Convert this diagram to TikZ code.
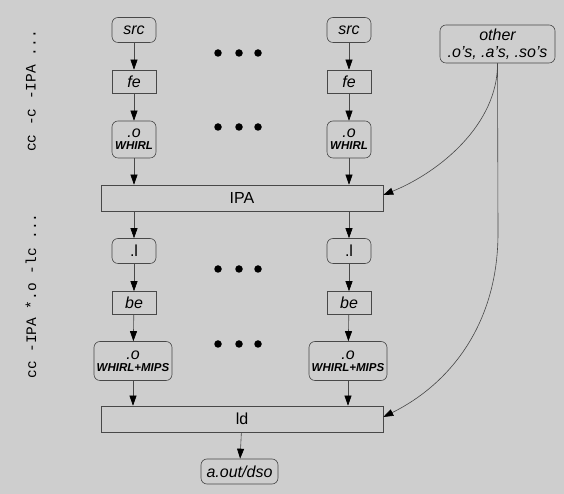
\documentclass[tikz,border=0pt]{standalone}
\usepackage{fontspec}
\setmainfont{Liberation Sans}
\setmonofont{Liberation Mono}
\usetikzlibrary{arrows.meta}
\definecolor{bg}{RGB}{206,206,206}
\definecolor{edge}{RGB}{72,72,72}
\newcommand{\ir}[1]{{\fontsize{11.5}{12}\selectfont\bfseries\itshape #1}}
\tikzset{
  every picture/.style={line width=0.6pt},
  file/.style={draw=edge,rectangle,rounded corners=6pt,minimum width=44pt,minimum height=25pt,align=center,inner sep=1pt,font=\fontsize{16}{17}\selectfont\itshape},
  tool/.style={draw=edge,rectangle,minimum width=44pt,minimum height=23pt,inner sep=1pt,font=\fontsize{16}{17}\selectfont\itshape},
  bar/.style={draw=edge,rectangle,minimum width=282pt,minimum height=26pt,font=\fontsize{16}{17}\selectfont},
  lbl/.style={font=\fontsize{14.5}{15}\selectfont\ttfamily,rotate=90,inner sep=0pt},
  flow/.style={-{Triangle[length=10pt,width=7pt,color=black]},edge},
  dot/.style={circle,fill=black,minimum size=7.5pt,inner sep=0pt},
}

\begin{document}
\begin{tikzpicture}[x=1pt,y=1pt]
\fill[bg] (0,0) rectangle (564,494);
\useasboundingbox (0,0) rectangle (564,494);
% compile commands
\node[lbl] (ccC) at (31,403) {cc -c -IPA ...};
\node[lbl] (ccL) at (31,198) {cc -IPA *.o -lc ...};
% front end, one column per source
\foreach \c/\x in {L/134,R/349} {
  \node[file] (src\c) at (\x,464) {src};
  \node[tool] (fe\c) at (\x,412.5) {fe};
  \node[file,minimum height=37pt] (obj\c) at (\x,354.5) {.o\\[-5pt]\ir{WHIRL}};
}
% IPA
\node[bar] (ipa) at (242,296) {IPA};
% back end
\foreach \c/\x in {L/134,R/349} {
  \node[file,font=\fontsize{16}{17}\selectfont] (l\c) at (\x,243) {.l};
  \node[tool] (be\c) at (\x,191) {be};
  \node[file,minimum width=78pt,minimum height=39pt] (mips\c) at (\x-1,133) {.o\\[-5pt]\ir{WHIRL+MIPS}};
}
% link
\node[bar] (ld) at (242,75) {ld};
\node[file,minimum width=77pt] (out) at (239.5,22.5) {a.out/dso};
\node[file,minimum width=115pt,minimum height=38pt] (other) at (497.5,450) {other\\.o's, .a's, .so's};
% more columns
\foreach \y in {441,367,225,150}
  \foreach \x in {218,239,258}
    \node[dot] (dot-\x-\y) at (\x,\y) {};
% flow
\foreach \c in {L,R} {
  \draw[flow] (src\c) -- (fe\c);
  \draw[flow] (fe\c) -- (obj\c);
  \draw[flow] (obj\c) -- (ipa.north -| obj\c);
  \draw[flow] (ipa.south -| l\c) -- (l\c);
  \draw[flow] (l\c) -- (be\c);
  \draw[flow] (be\c) -- (mips\c);
  \draw[flow] (mips\c) -- (ld.north -| mips\c);
}
\draw[flow] (ld) -- (out);
\coordinate (bend) at (498,261);
\draw[flow] (other.south) .. controls (498,370) and (440,322) .. ([yshift=3pt]ipa.east);
\draw[flow] (other.south) -- (bend) .. controls (498,170) and (450,110) .. ([yshift=2pt]ld.east);
\end{tikzpicture}
\end{document}
